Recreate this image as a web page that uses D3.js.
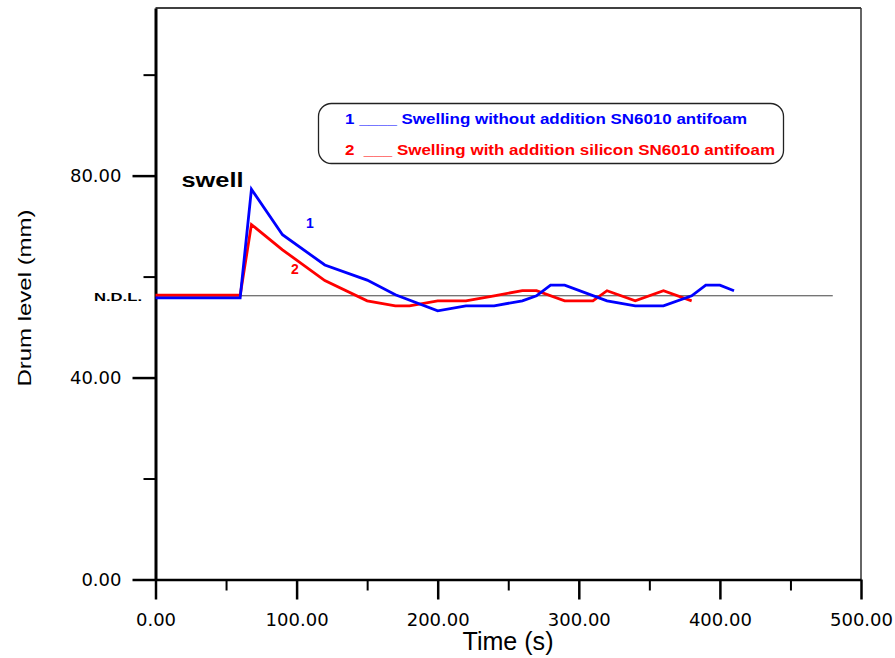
<!DOCTYPE html>
<meta charset="utf-8">
<head>
    <script type="text/javascript" src="https://cdn.jsdelivr.net/npm/d3@7/dist/d3.min.js"></script>
    <style>
        body { margin: 0; background: #fff; }
        .tick text { font-family: "DejaVu Sans", Verdana, sans-serif; font-size: 18px; fill: #000; }
    </style>
</head>
<body>
<div id="chart"></div>
<script>
    // data
    var timeBlue = [0, 60, 68, 90, 120, 150, 170, 200, 220, 240, 260, 270, 280, 290, 320, 340, 360, 380, 390, 400, 410];
    var levelBlue = [55.8, 55.8, 77.3, 68.3, 62.3, 59.3, 56.4, 53.2, 54.2, 54.2, 55.2, 56.2, 58.3, 58.3, 55.2, 54.2, 54.2, 56.2, 58.3, 58.3, 57.2];
    var timeRed = [0, 60, 68, 90, 120, 150, 170, 180, 200, 220, 240, 260, 270, 290, 310, 320, 340, 360, 380];
    var levelRed = [56.3, 56.3, 70.3, 65.3, 59.2, 55.2, 54.2, 54.2, 55.2, 55.2, 56.2, 57.2, 57.2, 55.2, 55.2, 57.2, 55.2, 57.2, 55.2];
    var ndlLevel = 56.2;
    var ndlEnd = 480;
    var xMajor = [0, 100, 200, 300, 400, 500];
    var xMinor = [50, 150, 250, 350, 450];
    var yMajor = [0, 40, 80];
    var yMinor = [20, 60, 100];
    var legendLabels = ["1 ____ Swelling without addition SN6010 antifoam",
                        "2  ___ Swelling with addition silicon SN6010 antifoam"];

    var w = 895, h = 658;
    var svg = d3.select("#chart").append("svg").attr("width", w).attr("height", h)
        .style("background", "#fff");

    var x = d3.scaleLinear().domain([0, 500]).range([155.5, 861]);
    var y = d3.scaleLinear().domain([0, 113.2]).range([579.5, 8]);

    // frame top / right
    svg.append("line").attr("x1", x(0)).attr("x2", x(500)).attr("y1", y(113.2)).attr("y2", y(113.2))
        .attr("stroke", "#000").attr("stroke-width", 1.5);
    svg.append("line").attr("x1", x(500)).attr("x2", x(500)).attr("y1", y(113.2)).attr("y2", y(0))
        .attr("stroke", "#333").attr("stroke-width", 1.5);

    // N.D.L. line
    svg.append("line").attr("x1", x(0)).attr("x2", x(ndlEnd)).attr("y1", y(ndlLevel)).attr("y2", y(ndlLevel))
        .attr("stroke", "#444").attr("stroke-width", 1);

    // axes
    var xAxis = svg.append("g").attr("transform", "translate(0," + y(0) + ")")
        .call(d3.axisBottom(x).tickValues(xMajor).tickSize(20).tickSizeOuter(0).tickPadding(14)
            .tickFormat(d3.format(".2f")));
    xAxis.select(".domain").attr("stroke-width", 2.5);
    xAxis.selectAll(".tick line").attr("stroke-width", 2.5);
    svg.append("g").attr("transform", "translate(0," + y(0) + ")")
        .call(d3.axisBottom(x).tickValues(xMinor).tickSize(11).tickSizeOuter(0).tickFormat(""))
        .call(g => g.select(".domain").remove())
        .selectAll(".tick line").attr("stroke-width", 2);

    var yAxis = svg.append("g").attr("transform", "translate(" + x(0) + ",0)")
        .call(d3.axisLeft(y).tickValues(yMajor).tickSize(23).tickSizeOuter(0).tickPadding(11)
            .tickFormat(d3.format(".2f")));
    yAxis.select(".domain").attr("stroke-width", 3);
    yAxis.selectAll(".tick line").attr("stroke-width", 2.5);
    svg.append("g").attr("transform", "translate(" + x(0) + ",0)")
        .call(d3.axisLeft(y).tickValues(yMinor).tickSize(12).tickSizeOuter(0).tickFormat(""))
        .call(g => g.select(".domain").remove())
        .selectAll(".tick line").attr("stroke-width", 2);

    // curves
    var line = d3.line().x(d => x(d[0])).y(d => y(d[1]));
    svg.append("path").datum(d3.zip(timeRed, levelRed)).attr("d", line)
        .attr("fill", "none").attr("stroke", "#ff0000").attr("stroke-width", 2.8);
    svg.append("path").datum(d3.zip(timeBlue, levelBlue)).attr("d", line)
        .attr("fill", "none").attr("stroke", "#0000ff").attr("stroke-width", 2.8);

    // annotations
    svg.append("text").attr("x", 181.5).attr("y", 187).text("swell")
        .attr("font-family", "Liberation Sans, Arial, sans-serif").attr("font-weight", "bold")
        .attr("font-size", 20).attr("textLength", 62).attr("lengthAdjust", "spacingAndGlyphs");
    svg.append("text").attr("x", 310).attr("y", 228).text("1").attr("text-anchor", "middle")
        .attr("font-family", "Liberation Sans, Arial, sans-serif").attr("font-weight", "bold")
        .attr("font-size", 14).attr("fill", "#0000ff");
    svg.append("text").attr("x", 295).attr("y", 274).text("2").attr("text-anchor", "middle")
        .attr("font-family", "Liberation Sans, Arial, sans-serif").attr("font-weight", "bold")
        .attr("font-size", 14).attr("fill", "#ff0000");
    svg.append("text").attr("x", 94).attr("y", 301).text("N.D.L.")
        .attr("font-family", "Liberation Sans, Arial, sans-serif").attr("font-weight", "bold")
        .attr("font-size", 11).attr("textLength", 48).attr("lengthAdjust", "spacingAndGlyphs");

    // legend box
    svg.append("rect").attr("x", 318.5).attr("y", 103.5).attr("width", 465).attr("height", 60)
        .attr("rx", 13).attr("fill", "#fff").attr("stroke", "#222").attr("stroke-width", 1.3);
    var legendColors = ["#0000ff", "#ff0000"];
    var legendWidths = [402, 430];
    svg.selectAll(".leg").data(legendLabels).enter().append("text")
        .attr("class", "leg")
        .attr("x", 345).attr("y", (d, i) => 124 + i * 31)
        .attr("fill", (d, i) => legendColors[i])
        .attr("font-family", "Liberation Sans, Arial, sans-serif").attr("font-weight", "bold")
        .attr("font-size", 14.5).style("white-space", "pre")
        .attr("textLength", (d, i) => legendWidths[i]).attr("lengthAdjust", "spacingAndGlyphs")
        .text(d => d);

    // axis titles
    svg.append("text").attr("x", 508).attr("y", 650).attr("text-anchor", "middle").text("Time (s)")
        .attr("font-family", "Liberation Sans, Arial, sans-serif").attr("font-size", 25)
        .attr("textLength", 91).attr("lengthAdjust", "spacingAndGlyphs");
    svg.append("text").attr("transform", "translate(31,298) rotate(-90)").attr("text-anchor", "middle")
        .text("Drum level (mm)")
        .attr("font-family", "Liberation Sans, Arial, sans-serif").attr("font-size", 19)
        .attr("textLength", 177).attr("lengthAdjust", "spacingAndGlyphs");
</script>
</body>
</html>
